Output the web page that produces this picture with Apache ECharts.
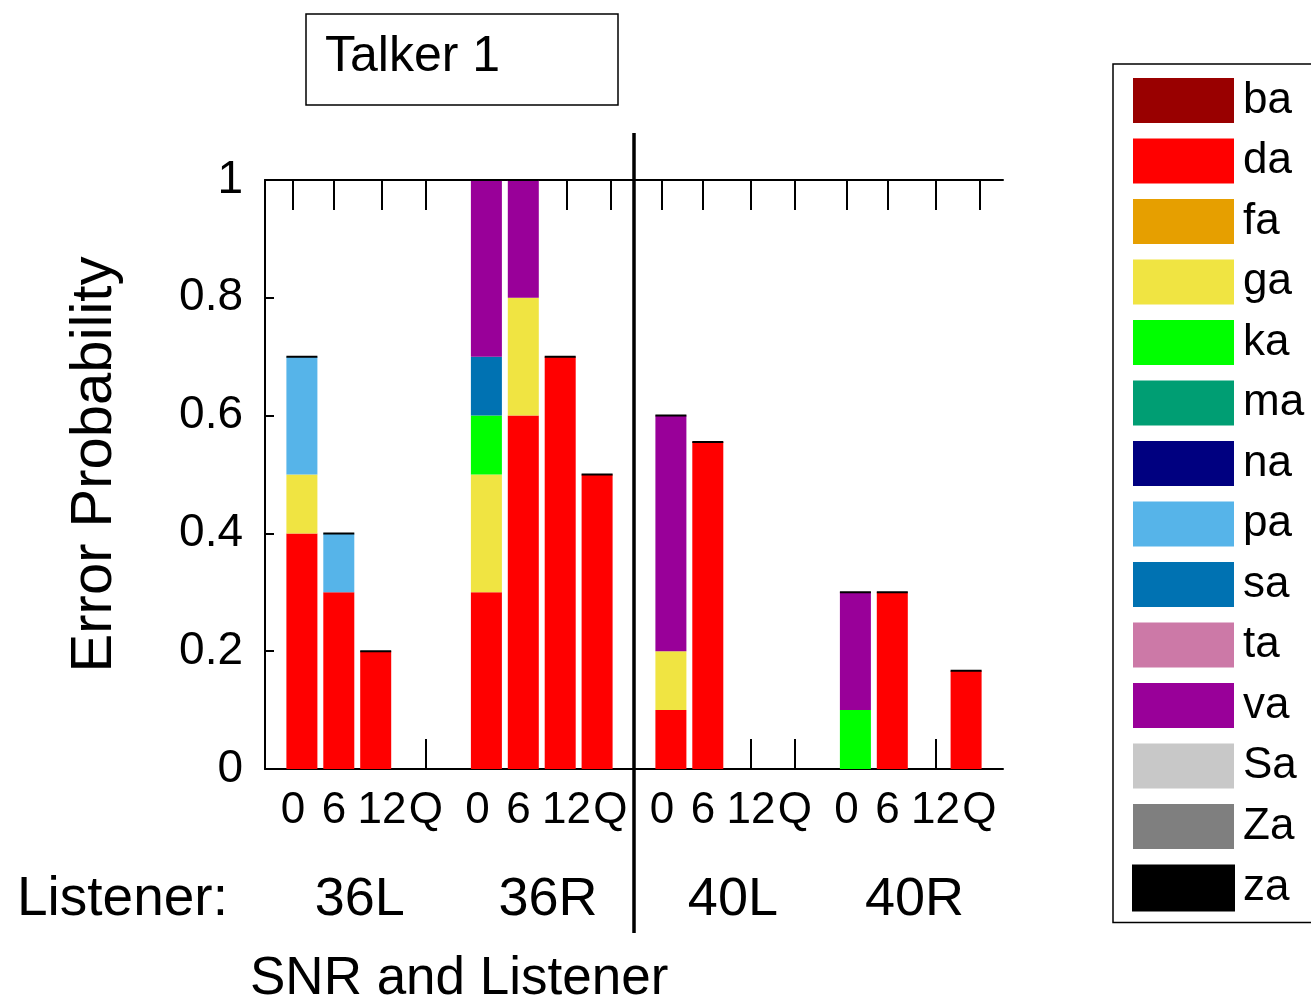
<!DOCTYPE html>
<html><head><meta charset="utf-8">
<script src="https://cdn.jsdelivr.net/npm/echarts@6/dist/echarts.min.js"></script>
<style>html,body{margin:0;padding:0;background:#fff}#c{width:1311px;height:1001px}</style>
</head><body><div id="c"></div>
<script>
// ---- data ----
const phonemes = ['ba','da','fa','ga','ka','ma','na','pa','sa','ta','va','Sa','Za','za'];
const colors = ['#990000','#FF0000','#E69F00','#F0E442','#00FF00','#009E73','#000080','#56B4E9','#0072B2','#CC79A7','#990099','#C8C8C8','#7F7F7F','#000000'];
const snrLabels = ['0','6','12','Q'];
const listeners = ['36L','36R','40L','40R'];
const slots = ['0','1','2','3','4','5','6','7','8','9','10','11','12','13','14','15','16','17','18','19','20'];
const barPositions = [1,2,3,4, 6,7,8,9, 11,12,13,14, 16,17,18,19];
const tickPositions = [0.76,1.87,3.17,4.36, 5.76,6.87,8.17,9.36, 10.76,11.87,13.17,14.36, 15.76,16.87,18.17,19.36];
const listenerPositions = [2.57,7.67,12.68,17.6];
const separatorPosition = 10;

const ba = [0,0,0,0, 0,0,0,0, 0,0,0,0, 0,0,0,0];
const da = [0.4,0.3,0.2,0, 0.3,0.6,0.7,0.5, 0.1,0.555,0,0, 0,0.3,0,0.167];
const fa = [0,0,0,0, 0,0,0,0, 0,0,0,0, 0,0,0,0];
const ga = [0.1,0,0,0, 0.2,0.2,0,0, 0.1,0,0,0, 0,0,0,0];
const ka = [0,0,0,0, 0.1,0,0,0, 0,0,0,0, 0.1,0,0,0];
const ma = [0,0,0,0, 0,0,0,0, 0,0,0,0, 0,0,0,0];
const na = [0,0,0,0, 0,0,0,0, 0,0,0,0, 0,0,0,0];
const pa = [0.2,0.1,0,0, 0,0,0,0, 0,0,0,0, 0,0,0,0];
const sa = [0,0,0,0, 0.1,0,0,0, 0,0,0,0, 0,0,0,0];
const ta = [0,0,0,0, 0,0,0,0, 0,0,0,0, 0,0,0,0];
const va = [0,0,0,0, 0.3,0.2,0,0, 0.4,0,0,0, 0.2,0,0,0];
const Sa = [0,0,0,0, 0,0,0,0, 0,0,0,0, 0,0,0,0];
const Za = [0,0,0,0, 0,0,0,0, 0,0,0,0, 0,0,0,0];
const za = [0,0,0,0, 0,0,0,0, 0,0,0,0, 0,0,0,0];
const seriesValues = [ba,da,fa,ga,ka,ma,na,pa,sa,ta,va,Sa,Za,za];

// ---- chart ----
const FONT = 'Liberation Sans, Arial, Helvetica, sans-serif';
const chart = echarts.init(document.getElementById('c'), null, {renderer:'canvas'});

function tickLabel(v){
  for (let i=0;i<tickPositions.length;i++) if (Math.abs(tickPositions[i]-v)<1e-6) return snrLabels[i%4];
  return '';
}
function listenerLabel(v){
  for (let i=0;i<listenerPositions.length;i++) if (Math.abs(listenerPositions[i]-v)<1e-6) return listeners[i];
  return '';
}

const series = phonemes.map((name,i)=>({
  name: name,
  type: 'bar',
  stack: 'total',
  xAxisIndex: 3,
  yAxisIndex: 0,
  barWidth: 31,
  data: seriesValues[i].map((v,j)=>[slots[barPositions[j]], v]),
  itemStyle: name === 'za' ? {color: colors[i], borderColor:'#000', borderWidth:2} : {color: colors[i]},
  emphasis: {disabled: true}
}));

const option = {
  animation: false,
  backgroundColor: '#fff',
  textStyle: {fontFamily: FONT},
  title: {
    text: 'Talker 1',
    left: 306, top: 14,
    padding: [15,118,19,19],
    borderColor: '#000', borderWidth: 1.5,
    textStyle: {fontFamily: FONT, fontSize: 50, fontWeight: 'normal', color: '#000', lineHeight: 57}
  },
  legend: {
    data: phonemes,
    orient: 'vertical',
    left: 1113, top: 64,
    padding: [14,19,11,19],
    itemWidth: 101, itemHeight: 45, itemGap: 15.5,
    icon: 'rect',
    selectedMode: false,
    borderColor: '#000', borderWidth: 1.5,
    textStyle: {fontFamily: FONT, fontSize: 44, color: '#000', padding:[5,0,0,4]}
  },
  grid: {left: 265, top: 180, width: 738, height: 589, containLabel: false},
  xAxis: [
    {
      type: 'value', position: 'bottom', min: 0, max: 20,
      axisLine: {show: true, lineStyle: {color:'#000', width: 2}},
      axisTick: {show: true, inside: true, length: 30, customValues: tickPositions, lineStyle:{color:'#000', width:2}},
      axisLabel: {show: true, customValues: tickPositions, formatter: tickLabel, margin: 20,
                  fontFamily: FONT, fontSize: 44, color: '#000'},
      splitLine: {show: false}
    },
    {
      type: 'value', position: 'top', min: 0, max: 20,
      axisLine: {show: true, lineStyle: {color:'#000', width: 2}},
      axisTick: {show: true, inside: true, length: 30, customValues: tickPositions, lineStyle:{color:'#000', width:2}},
      axisLabel: {show: false},
      splitLine: {show: false}
    },
    {
      type: 'value', position: 'bottom', min: 0, max: 20,
      axisLine: {show: false},
      axisTick: {show: false},
      axisLabel: {show: true, customValues: listenerPositions, formatter: listenerLabel, margin: 104,
                  fontFamily: FONT, fontSize: 54, color: '#000'},
      splitLine: {show: false}
    },
    {
      type: 'category', data: slots, boundaryGap: false, show: false
    }
  ],
  yAxis: {
    type: 'value', min: 0, max: 1, interval: 0.2, offset: 11,
    name: 'Error Probability', nameLocation: 'middle', nameGap: 130,
    nameTextStyle: {fontFamily: FONT, fontSize: 58, color: '#000', padding:[0,0,0,20]},
    axisLine: {show: true, lineStyle: {color:'#000', width: 2}},
    axisTick: {show: true, inside: true, length: 9, lineStyle:{color:'#000', width:2}},
    axisLabel: {margin: 11, fontFamily: FONT, fontSize: 46, color: '#000'},
    splitLine: {show: false}
  },
  series: series
};
chart.setOption(option);

const sepX = chart.convertToPixel({xAxisIndex: 0}, separatorPosition);
chart.setOption({
  graphic: [
    {type: 'line', z: 100, shape: {x1: sepX, y1: 133, x2: sepX, y2: 933}, style: {stroke: '#000', lineWidth: 3.5}},
    {type: 'text', left: 17, top: 872, style: {text: 'Listener:', font: '55px ' + FONT, fill: '#000'}},
    {type: 'text', left: 250, top: 953, style: {text: 'SNR and Listener', font: '53px ' + FONT, fill: '#000'}}
  ]
});
</script>
</body></html>
